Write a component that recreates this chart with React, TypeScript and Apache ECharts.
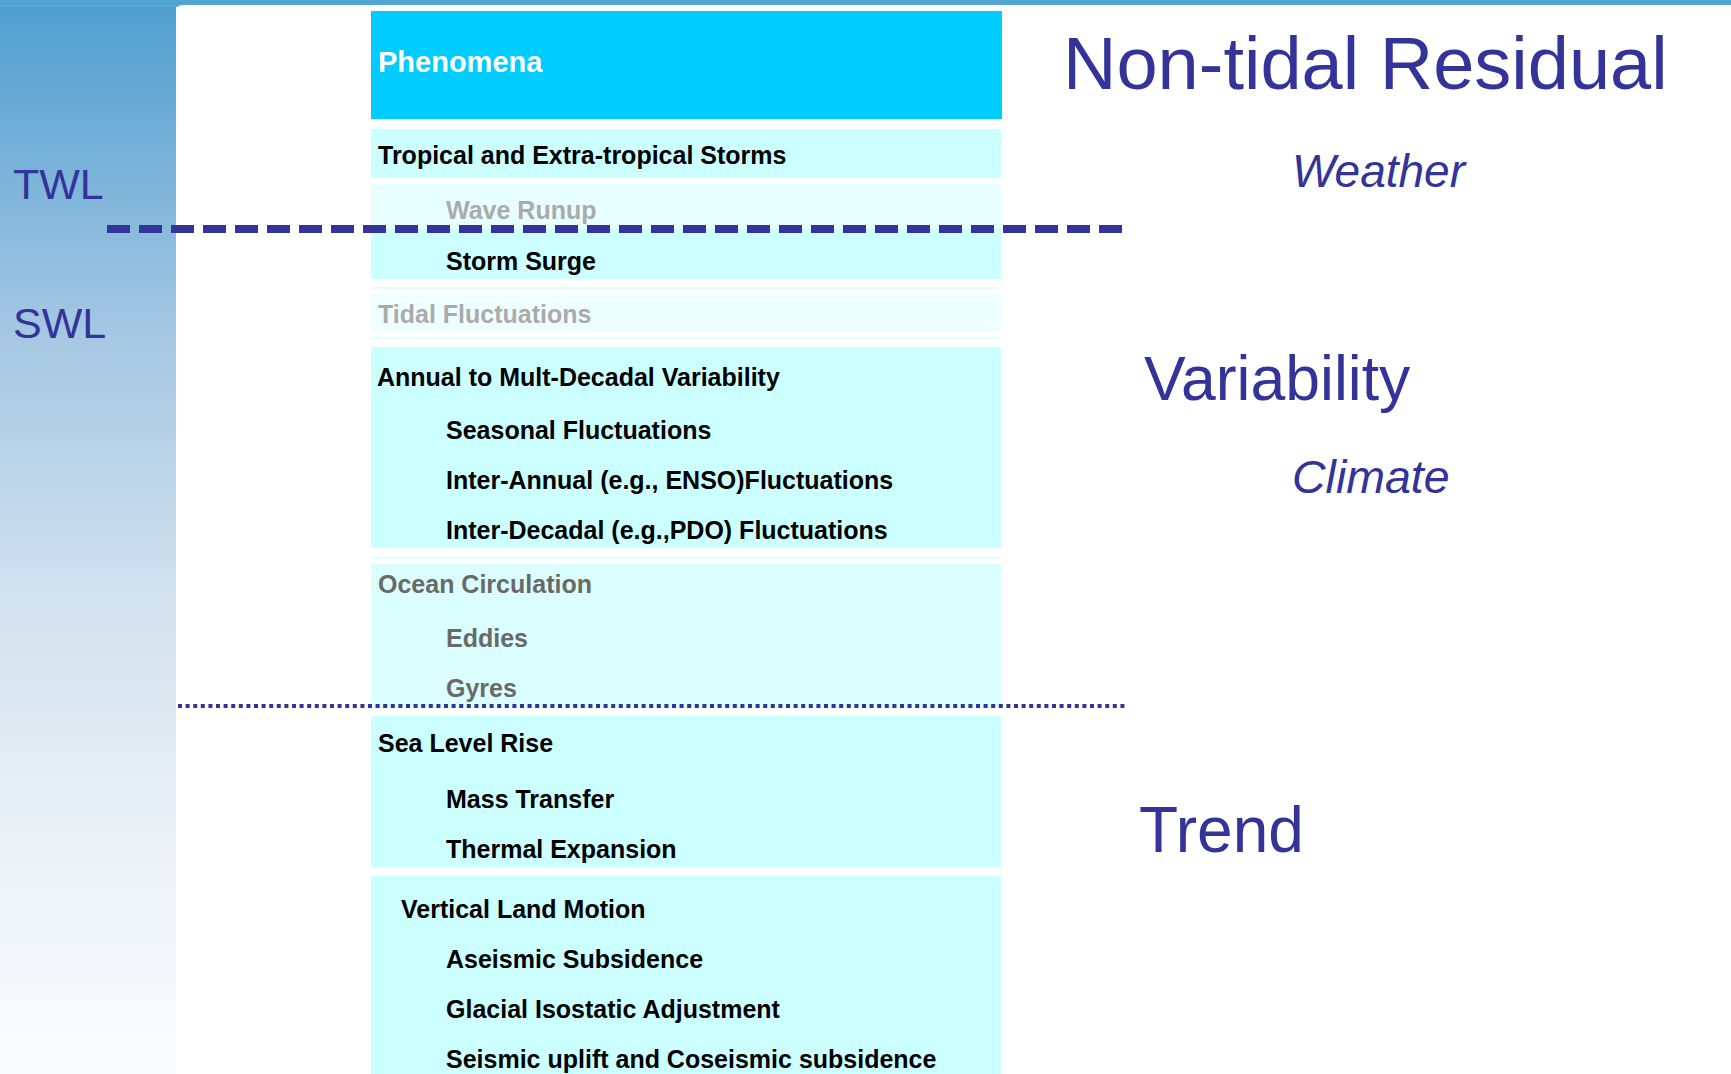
import React, { useEffect, useRef } from "react";
import * as echarts from "echarts";

// ---- content ----
const headerLabel = "Phenomena";
const rowLabels = [
  "Tropical and Extra-tropical Storms",
  "Wave Runup",
  "Storm Surge",
  "Tidal Fluctuations",
  "Annual to Mult-Decadal Variability",
  "Seasonal Fluctuations",
  "Inter-Annual (e.g., ENSO)Fluctuations",
  "Inter-Decadal (e.g.,PDO) Fluctuations",
  "Ocean Circulation",
  "Eddies",
  "Gyres",
  "Sea Level Rise",
  "Mass Transfer",
  "Thermal Expansion",
  "Vertical Land Motion",
  "Aseismic Subsidence",
  "Glacial Isostatic Adjustment",
  "Seismic uplift and Coseismic subsidence",
];
// text tone per row: 0 = black, 1 = light grey, 2 = mid grey
const rowTone = [0, 1, 0, 1, 0, 0, 0, 0, 2, 2, 2, 0, 0, 0, 0, 0, 0, 0];
const levelLabels = ["TWL", "SWL"];
const sideLabels = ["Non-tidal Residual", "Weather", "Variability", "Climate", "Trend"];

// ---- layout (positions kept apart from the content) ----
const W = 1731;
const H = 1074;
const rowBaseline = [164, 219, 270, 323, 386, 439, 489, 539, 593, 647, 697, 752, 808, 858, 918, 968, 1018, 1068];
const rowX = [378, 446, 446, 378, 377, 446, 446, 446, 378, 446, 446, 378, 446, 446, 401, 446, 446, 446];
const boxTop = [129, 184, 229, 294, 347, 564, 716, 876];
const boxBottom = [178, 229, 279, 332, 548, 708, 867, 1074];
const boxFill = ["#CCFFFF", "#E8FFFF", "#CCFFFF", "#EEFFFF", "#CCFFFF", "#DBFFFF", "#CCFFFF", "#CCFFFF"];
const sepY = [288, 338, 558];
const levelBaseline = [199, 338];
const sideX = [1063, 1292, 1144, 1292, 1139];
const sideBaseline = [89, 187, 400, 493, 852];
const sideSize = [74, 46, 62.5, 46.5, 64];
const sideItalic = [false, true, false, true, false];

const BLUE = "#333399";
const FONT = '"Liberation Sans", Arial, Helvetica, sans-serif';
const toneColor = ["#000000", "#ABABAB", "#696969"];

function textEl(
  text: string,
  x: number,
  baseline: number,
  size: number,
  fill: string,
  weight: string,
  italic = false
) {
  const y = baseline - size * 0.3465;
  return {
    type: "text",
    x,
    y,
    silent: true,
    style: {
      text,
      x: 0,
      y: 0,
      fill,
      fontSize: size,
      fontFamily: FONT,
      fontWeight: weight,
      fontStyle: italic ? "italic" : "normal",
      align: "left",
      verticalAlign: "middle",
      textAlign: "left",
      textVerticalAlign: "middle",
    },
  };
}

export default function App() {
  const ref = useRef<HTMLDivElement>(null);

  useEffect(() => {
    if (!ref.current) return;
    const chart = echarts.init(ref.current, undefined, { renderer: "svg", width: W, height: H });

    const elements: any[] = [];

    // left gradient panel
    elements.push({
      type: "rect",
      shape: { x: 0, y: 0, width: 176, height: H },
      silent: true,
      style: {
        fill: new echarts.graphic.LinearGradient(0, 0, 0, 1, [
          { offset: 0, color: "#4E9ECF" },
          { offset: 0.3, color: "#A2C6E2" },
          { offset: 0.56, color: "#D3E2EF" },
          { offset: 0.84, color: "#F0F5F9" },
          { offset: 1, color: "#FBFCFE" },
        ]),
      },
    });
    // top strip
    elements.push({
      type: "rect",
      shape: { x: 0, y: 0, width: W, height: 7 },
      silent: true,
      style: { fill: "#52A5D2" },
    });
    // white panel
    elements.push({
      type: "rect",
      shape: { x: 176, y: 5, width: W - 176, height: H - 5, r: [6, 0, 0, 0] },
      silent: true,
      style: { fill: "#FFFFFF" },
    });
    elements.push({
      type: "rect",
      shape: { x: 368, y: 7, width: W - 368, height: H - 7 },
      silent: true,
      style: { fill: "#FFFFFF" },
    });

    // header
    elements.push({
      type: "rect",
      shape: { x: 371, y: 11, width: 631, height: 108 },
      silent: true,
      style: { fill: "#00CCFF" },
    });
    elements.push(textEl(headerLabel, 378, 72, 29, "#FFFFFF", "bold"));

    // boxes
    boxTop.forEach((t, i) => {
      elements.push({
        type: "rect",
        shape: { x: 371, y: t, width: 630, height: boxBottom[i] - t },
        silent: true,
        style: { fill: boxFill[i] },
      });
    });
    sepY.forEach((y) => {
      elements.push({
        type: "rect",
        shape: { x: 371, y: y - 1, width: 630, height: 2 },
        silent: true,
        style: { fill: "#E2FFFF" },
      });
    });

    // row texts
    rowLabels.forEach((label, i) => {
      elements.push(textEl(label, rowX[i], rowBaseline[i], 25, toneColor[rowTone[i]], "bold"));
    });

    // level labels
    levelLabels.forEach((label, i) => {
      elements.push(textEl(label, 13, levelBaseline[i], 43, BLUE, "normal"));
    });

    // right side labels
    sideLabels.forEach((label, i) => {
      elements.push(textEl(label, sideX[i], sideBaseline[i], sideSize[i], BLUE, "normal", sideItalic[i]));
    });

    // dashed TWL line
    elements.push({
      type: "line",
      silent: true,
      shape: { x1: 107, y1: 229, x2: 1123, y2: 229 },
      style: { stroke: BLUE, lineWidth: 8, lineDash: [23, 9], lineCap: "butt" },
    });
    // dotted line
    elements.push({
      type: "line",
      silent: true,
      shape: { x1: 178, y1: 706, x2: 1127, y2: 706 },
      style: { stroke: BLUE, lineWidth: 3.8, lineDash: [4, 3.6], lineCap: "butt" },
    });

    chart.setOption({
      animation: false,
      backgroundColor: "#FFFFFF",
      graphic: { elements },
    });

    return () => chart.dispose();
  }, []);

  return (
    <div
      ref={ref}
      style={{ position: "fixed", left: 0, top: 0, width: W, height: H, background: "#FFFFFF" }}
    />
  );
}
